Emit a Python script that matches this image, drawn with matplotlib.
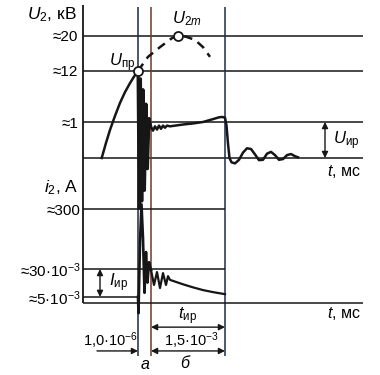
import matplotlib
matplotlib.use("Agg")
import matplotlib.pyplot as plt

plt.rcParams['font.family'] = ['Liberation Sans', 'DejaVu Sans']
plt.rcParams['mathtext.fontset'] = 'custom'
plt.rcParams['mathtext.rm'] = 'Liberation Sans'
plt.rcParams['mathtext.it'] = 'Liberation Sans:italic'
plt.rcParams['font.size'] = 10.5

# schematic time axis (arbitrary units), interval marks
t_a0, t_a1, t_b1, t_end = 5.5, 6.8, 14.2, 28

# upper panel: U2 levels (schematic positions) and labels
u_levels = [1.0, 2.42, 3.39]
u_labels = ['≈1', '≈12', '≈20']

# lower panel: i2 levels
i_levels = [0.18, 1.0, 2.76]
i_labels = ['≈5·10$^{-3}$', '≈30·10$^{-3}$', '≈300']

# U2 rising until breakdown
u_rise_t = [1.87, 2.3, 2.7, 3.2, 3.7, 4.2, 4.7, 5.1, 5.5]
u_rise_v = [0.0, 0.42, 0.78, 1.17, 1.53, 1.83, 2.08, 2.26, 2.42]
# dashed continuation (no breakdown)
u_dash_t = [5.5, 6.5, 7.7, 8.9, 9.5, 10.3, 11.2, 12.0, 12.7]
u_dash_v = [2.42, 2.81, 3.08, 3.33, 3.39, 3.37, 3.28, 3.08, 2.81]
# oscillation during a
u_osc_t = [5.5, 5.62, 5.75, 5.88, 6.0, 6.15, 6.3, 6.45, 6.6, 6.8]
u_osc_v = [2.42, -1.4, 2.2, -1.2, 1.9, -0.9, 1.5, -0.3, 1.1, 0.85]
# arc-burning voltage and tail
u_arc_t = [6.8, 7.0, 7.2, 7.4, 7.6, 7.8, 8.0, 8.2, 8.4, 8.7, 10.0, 11.0, 12.0,
           13.0, 13.6, 13.9, 14.1, 14.2, 14.35, 14.5, 14.65, 14.85, 15.2, 15.6,
           16.0, 16.4, 16.8, 17.2, 17.6, 18.0, 18.4, 18.8, 19.2, 19.6, 20.0,
           20.4, 20.8, 21.2, 21.5]
u_arc_v = [0.85, 0.76, 0.88, 0.79, 0.9, 0.81, 0.9, 0.84, 0.9, 0.88, 0.93, 0.96,
           1.0, 1.08, 1.13, 1.14, 1.13, 1.12, 0.9, 0.4, 0.0, -0.12, -0.15, -0.05,
           0.15, 0.27, 0.25, 0.1, -0.06, -0.05, 0.12, 0.17, 0.08, -0.05, -0.03,
           0.08, 0.11, 0.05, 0.02]

# i2 current
i_spk_t = [5.5, 5.55, 5.7, 5.85, 6.0, 6.15, 6.3, 6.45, 6.6, 6.8]
i_spk_v = [0.18, -0.3, 1.8, 2.9, 1.9, 0.3, 1.5, 0.6, 1.2, 0.97]
i_arc_t = [6.8, 7.1, 7.4, 7.7, 8.0, 8.3, 8.5, 8.7, 10.0, 11.0, 12.0, 13.0, 14.2]
i_arc_v = [0.97, 0.53, 0.91, 0.44, 0.88, 0.53, 0.79, 0.68, 0.55, 0.46, 0.38,
           0.32, 0.26]

W, H = 380, 375
fig = plt.figure(figsize=(W / 100, H / 100), dpi=100)
ax_u = fig.add_axes([83 / W, 1 - 170 / H, 280 / W, 170 / H])
ax_i = fig.add_axes([83 / W, 0, 280 / W, 205 / H])
ax_u.set_ylim(-12 / 36, 158 / 36)
ax_i.set_ylim(-72 / 34, 133 / 34)

ink = '#161616'
for ax in (ax_u, ax_i):
    ax.set_xlim(0, t_end)
    ax.patch.set_alpha(0)
    for s in ax.spines.values():
        s.set_visible(False)
    ax.set_xticks([])
    ax.tick_params(axis='y', length=0, labelsize=11)

ax_u.set_yticks(u_levels, u_labels)
ax_u.tick_params(axis='y', pad=3.5)
ax_i.set_yticks(i_levels, i_labels)
ax_i.tick_params(axis='y', pad=1.5)

# grid lines
ax_u.hlines([0] + u_levels, 0, t_end, color=ink, lw=1.1)
ax_i.hlines([0], 0, t_end, color=ink, lw=1.1)
ax_i.hlines(i_levels[1:], 0, t_b1, color=ink, lw=1.1)
ax_i.hlines(i_levels[0], 0, t_a0, color=ink, lw=1.1)

# vertical axis and interval markers
ax_u.vlines(0, -145 / 36, 153 / 36, color=ink, lw=1.3, clip_on=False)
ax_u.vlines(t_a0, -198 / 36, 151 / 36, color='#1b2846', lw=1.1, clip_on=False)
ax_u.vlines(t_a1, -198 / 36, 151 / 36, color='#6e3a2c', lw=1.1, clip_on=False)
ax_u.vlines(t_b1, -198 / 36, 151 / 36, color='#1d2a52', lw=1.1, clip_on=False)

# curves
ax_u.plot(u_rise_t, u_rise_v, color=ink, lw=1.8)
ax_u.plot(u_dash_t, u_dash_v, color=ink, lw=1.8, ls=(0, (3.5, 2.5)))
ax_u.plot(u_osc_t, u_osc_v, color=ink, lw=2.2, clip_on=False)
ax_u.plot(u_arc_t, u_arc_v, color=ink, lw=1.8)
ax_u.plot([u_rise_t[-1], u_dash_t[4]], [u_rise_v[-1], u_dash_v[4]], 'o',
          ms=6.5, mfc='white', mec=ink, mew=1.3, zorder=5)

ax_i.plot(i_spk_t, i_spk_v, color=ink, lw=1.9, clip_on=False)
ax_i.plot(i_arc_t, i_arc_v, color=ink, lw=1.6)

# axis titles and labels
ax_u.text(-0.6, 143 / 36, '$U_2$, кВ', ha='right', va='center', fontsize=12.5)
ax_i.text(-0.5, 115 / 34, '$i_2$, А', ha='right', va='center', fontsize=12.5)
ax_u.text(24.4, -13 / 36, '$t$, мс', ha='left', va='center', fontsize=11.5)
ax_i.text(24.4, -10 / 34, '$t$, мс', ha='left', va='center', fontsize=11.5)
ax_u.text(5.2, 95 / 36, '$U_{\\mathrm{пр}}$', ha='right', va='center',
          fontsize=12)
ax_u.text(8.9, 139 / 36, '$U_{2m}$', ha='left', va='center', fontsize=12)
ax_u.text(25.0, 17 / 36, '$U_{\\mathrm{ир}}$', ha='left', va='center',
          fontsize=12)
ax_i.text(2.6, 0.6, '$I_{\\mathrm{ир}}$', ha='left', va='center', fontsize=12)
ax_i.text(10.5, -0.38, '$t_{\\mathrm{ир}}$', ha='center', va='center',
          fontsize=12)
ax_i.text(2.7, -1.1, '1,0·10$^{-6}$', ha='center', va='center')
ax_i.text(10.8, -1.1, '1,5·10$^{-3}$', ha='center', va='center')
ax_i.text(6.2, -1.8, '$а$', ha='center', va='center', fontsize=11.5)
ax_i.text(10.3, -1.75, '$б$', ha='center', va='center', fontsize=11.5)

# dimension arrows
arr2 = dict(arrowstyle='<|-|>', color=ink, lw=1.0, mutation_scale=9,
            shrinkA=0, shrinkB=0)
arr1 = dict(arrowstyle='-|>', color=ink, lw=1.0, mutation_scale=9,
            shrinkA=0, shrinkB=0)
ax_u.annotate('', xy=(24.2, 0), xytext=(24.2, u_levels[0]), arrowprops=arr2,
              annotation_clip=False)
ax_i.annotate('', xy=(1.7, i_levels[0]), xytext=(1.7, i_levels[1]),
              arrowprops=arr2, annotation_clip=False)
ax_i.annotate('', xy=(t_a1, -0.71), xytext=(t_b1, -0.71), arrowprops=arr2,
              annotation_clip=False)
ax_i.annotate('', xy=(t_a1, -1.41), xytext=(t_b1, -1.41), arrowprops=arr2,
              annotation_clip=False)
ax_i.annotate('', xy=(t_a0, -1.41), xytext=(1.4, -1.41), arrowprops=arr1,
              annotation_clip=False)

fig.savefig('out.png', dpi=100, facecolor='white')
